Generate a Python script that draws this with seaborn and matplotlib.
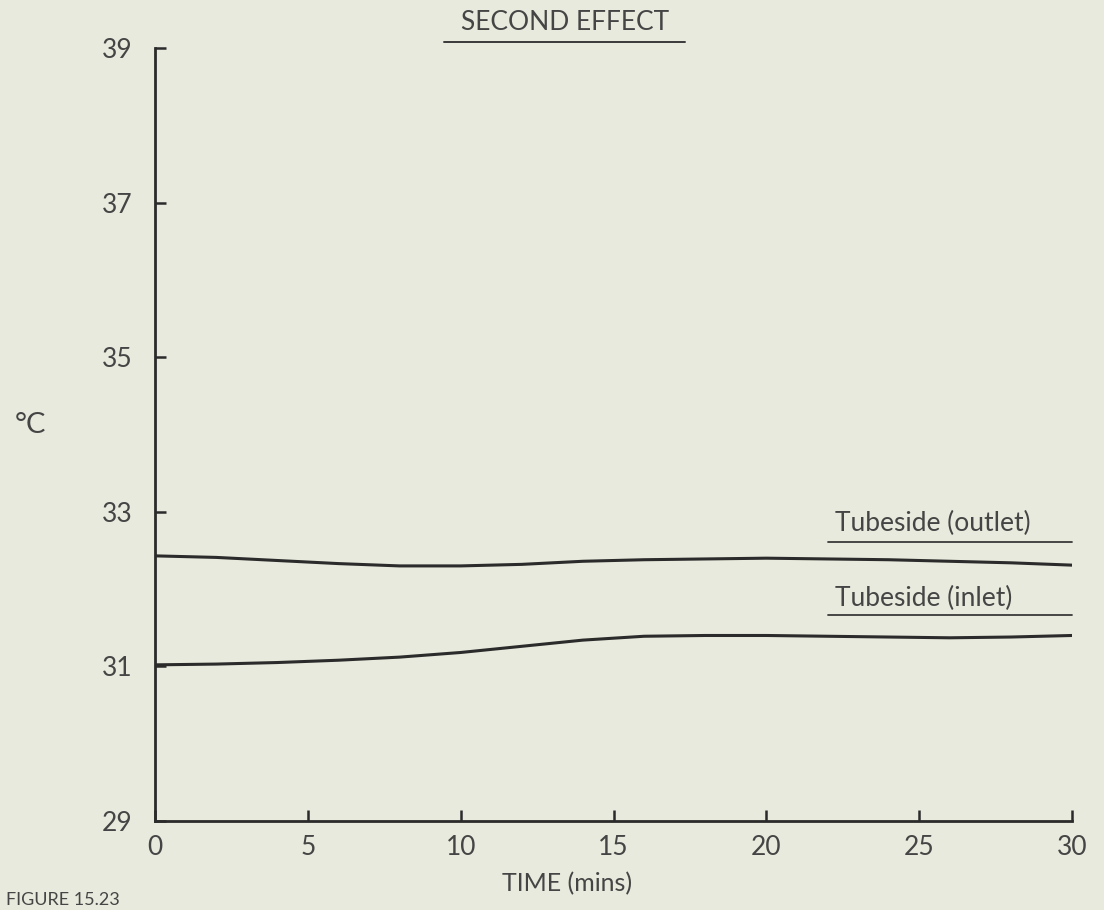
import numpy as np
import pandas as pd
import matplotlib
matplotlib.use("Agg")
import matplotlib.pyplot as plt
import seaborn as sns
from matplotlib.lines import Line2D

# ---- data ----
time_min = [0, 2, 4, 6, 8, 10, 12, 14, 16, 18, 20, 22, 24, 26, 28, 30]
outlet_temp = [32.43, 32.41, 32.37, 32.33, 32.30, 32.30, 32.32, 32.36,
               32.38, 32.39, 32.40, 32.39, 32.38, 32.36, 32.34, 32.31]
inlet_temp = [31.02, 31.03, 31.05, 31.08, 31.12, 31.18, 31.26, 31.34,
              31.39, 31.40, 31.40, 31.39, 31.38, 31.37, 31.38, 31.40]
series_names = ["Tubeside (outlet)", "Tubeside (inlet)"]
x_ticks = [0, 5, 10, 15, 20, 25, 30]
y_ticks = [29, 31, 33, 35, 37, 39]

df = pd.DataFrame({
    "time": time_min * 2,
    "temp": outlet_temp + inlet_temp,
    "series": [series_names[0]] * len(time_min) + [series_names[1]] * len(time_min),
})

paper = "#e7eadc"
ink = "#2b2b2b"
txt = "#454545"

sns.set_style("ticks")
plt.rcParams["font.family"] = ["Lato", "DejaVu Sans"]
plt.rcParams["font.weight"] = "normal"

fig = plt.figure(figsize=(11.04, 9.10), dpi=100, facecolor=paper)
W, H = 1104, 910
ax = fig.add_axes([155 / W, 1 - 821 / H, (1072 - 155) / W, (821 - 48) / H])
ax.set_facecolor(paper)

sns.lineplot(data=df, x="time", y="temp", hue="series",
             palette=[ink, ink], linewidth=2.2, ax=ax, legend=False)

ax.set_xlim(0, 30)
ax.set_ylim(29, 39)
ax.set_xticks(x_ticks)
ax.set_yticks(y_ticks)
ax.tick_params(axis="both", direction="in", length=8, width=1.8, color=ink,
               labelsize=19, labelcolor=txt)
ax.tick_params(axis="y", pad=16)
ax.tick_params(axis="x", pad=10)
sns.despine(ax=ax)
for s in ("left", "bottom"):
    ax.spines[s].set_linewidth(2.0)
    ax.spines[s].set_color(ink)

ax.set_xlabel("TIME (mins)", fontsize=18, color=txt)
ax.set_ylabel("")
ax.xaxis.set_label_coords((567 - 155) / (1072 - 155), -0.066)

# y label
fig.text(30 / W, 1 - 425 / H, "°C", fontsize=21, color=txt, ha="center", va="center")

# title with underline
fig.text(565 / W, 1 - 22 / H, "SECOND EFFECT", fontsize=19, color=txt, ha="center", va="center")
fig.add_artist(Line2D([444 / W, 685 / W], [1 - 42 / H, 1 - 42 / H],
                      transform=fig.transFigure, color="#3a3a3a", lw=1.4))

# curve labels with underlines (axes fraction)
def ax_frac(px, py):
    return (px - 155) / (1072 - 155), (821 - py) / (821 - 48)

for name, ty, uy in [(series_names[0], 523, 542), (series_names[1], 598, 615)]:
    x0, y0 = ax_frac(835, ty)
    ax.text(x0, y0, name, transform=ax.transAxes, fontsize=19, color=txt,
            ha="left", va="center")
    xa, ya = ax_frac(828, uy)
    xb, _ = ax_frac(1072, uy)
    ax.plot([xa, xb], [ya, ya], transform=ax.transAxes, color="#3a3a3a", lw=1.3,
            clip_on=False)

# figure caption at the bottom (cut off in the scan)
fig.text(6 / W, 2 / H, "FIGURE 15.23", fontsize=13, color=txt, ha="left", va="bottom")

fig.savefig("out.png", dpi=100, facecolor=paper)
